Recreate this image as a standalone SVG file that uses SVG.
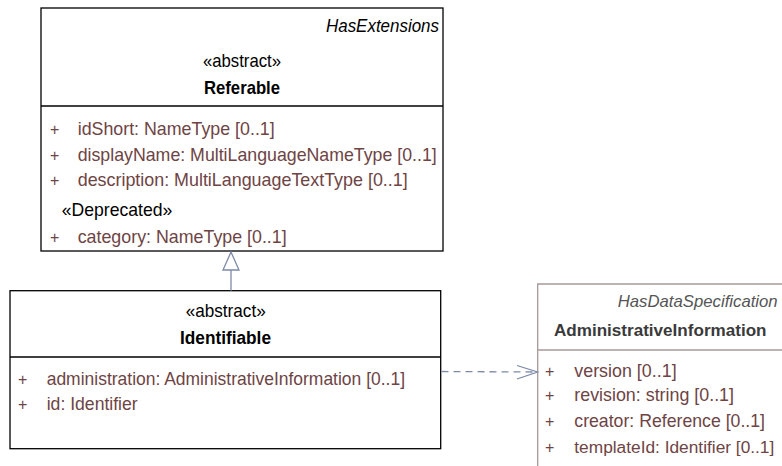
<svg xmlns="http://www.w3.org/2000/svg" width="782" height="466" viewBox="0 0 782 466">
<style>
text{font-family:"Liberation Sans",Arial,sans-serif;font-size:18.5px}
.st{fill:#000}
.nm{fill:#000;font-weight:bold}
.it{font-style:italic;fill:#000}
.at{fill:#6e4444}
.pl{fill:#6e4444;font-size:16px}
.box{fill:#fff;stroke:#000;stroke-width:1.3}
.gbox{fill:none;stroke:#a89898;stroke-width:1.3}
.conn{fill:none;stroke:#7d8aa6;stroke-width:1.3}
</style>
<rect width="782" height="466" fill="#fff"/>
<g id="Referable">
<rect class="box" x="41" y="8" width="402" height="243"/>
<line class="box" x1="41" y1="106" x2="443" y2="106"/>
<text class="it" x="439" y="31.5" text-anchor="end" textLength="113" lengthAdjust="spacingAndGlyphs">HasExtensions</text>
<text class="st" x="203" y="66.5" textLength="78" lengthAdjust="spacingAndGlyphs">«abstract»</text>
<text class="nm" x="204" y="94" textLength="76" lengthAdjust="spacingAndGlyphs">Referable</text>
<text class="pl" x="50" y="135">+</text>
<text class="at" x="77.7" y="135" textLength="197" lengthAdjust="spacingAndGlyphs">idShort: NameType [0..1]</text>
<text class="pl" x="50" y="160.5">+</text>
<text class="at" x="77.7" y="160.5" textLength="359" lengthAdjust="spacingAndGlyphs">displayName: MultiLanguageNameType [0..1]</text>
<text class="pl" x="50" y="186">+</text>
<text class="at" x="77.7" y="186" textLength="330" lengthAdjust="spacingAndGlyphs">description: MultiLanguageTextType [0..1]</text>
<text class="st" x="61.7" y="215.5" textLength="110.6" lengthAdjust="spacingAndGlyphs">«Deprecated»</text>
<text class="pl" x="50" y="243">+</text>
<text class="at" x="77.7" y="243" textLength="209" lengthAdjust="spacingAndGlyphs">category: NameType [0..1]</text>
</g>
<g id="Identifiable">
<rect class="box" x="10" y="290.7" width="430.7" height="158"/>
<line class="box" x1="10" y1="357" x2="440.7" y2="357"/>
<text class="st" x="185.7" y="316.5" textLength="80" lengthAdjust="spacingAndGlyphs">«abstract»</text>
<text class="nm" x="180" y="344" textLength="91" lengthAdjust="spacingAndGlyphs">Identifiable</text>
<text class="pl" x="18" y="385">+</text>
<text class="at" x="46.7" y="385" textLength="358.3" lengthAdjust="spacingAndGlyphs">administration: AdministrativeInformation [0..1]</text>
<text class="pl" x="18" y="410">+</text>
<text class="at" x="46.7" y="410" textLength="91" lengthAdjust="spacingAndGlyphs">id: Identifier</text>
</g>
<g id="AdministrativeInformation">
<path class="gbox" d="M782,284 H537.7 V466"/>
<line class="gbox" x1="537.7" y1="350" x2="782" y2="350"/>
<text class="it" x="617.7" y="306.5" style="fill:#555;font-size:16.4px" textLength="160" lengthAdjust="spacingAndGlyphs">HasDataSpecification</text>
<text class="nm" x="554" y="336" style="fill:#3a3a3a;font-size:17.1px" textLength="212.5" lengthAdjust="spacingAndGlyphs">AdministrativeInformation</text>
<text class="pl" x="545" y="376.5">+</text>
<text class="at" x="574.3" y="376.5" textLength="102.3" lengthAdjust="spacingAndGlyphs">version [0..1]</text>
<text class="pl" x="545" y="401">+</text>
<text class="at" x="574.3" y="401" textLength="159.7" lengthAdjust="spacingAndGlyphs">revision: string [0..1]</text>
<text class="pl" x="545" y="426.5">+</text>
<text class="at" x="574.3" y="426.5" textLength="190.7" lengthAdjust="spacingAndGlyphs">creator: Reference [0..1]</text>
<text class="pl" x="545" y="452.5">+</text>
<text class="at" x="574.3" y="452.5" style="font-size:17.3px" textLength="200" lengthAdjust="spacingAndGlyphs">templateId: Identifier [0..1]</text>
</g>
<g id="connectors">
<line class="conn" x1="231" y1="290.7" x2="231" y2="270"/>
<polygon class="conn" points="231,252 223,270 239,270" style="fill:#fff"/>
<line class="conn" x1="441.5" y1="371.5" x2="537" y2="372" stroke-dasharray="7,5"/>
<polyline class="conn" points="517,365.5 537.5,372 517,379"/>
</g>
</svg>
